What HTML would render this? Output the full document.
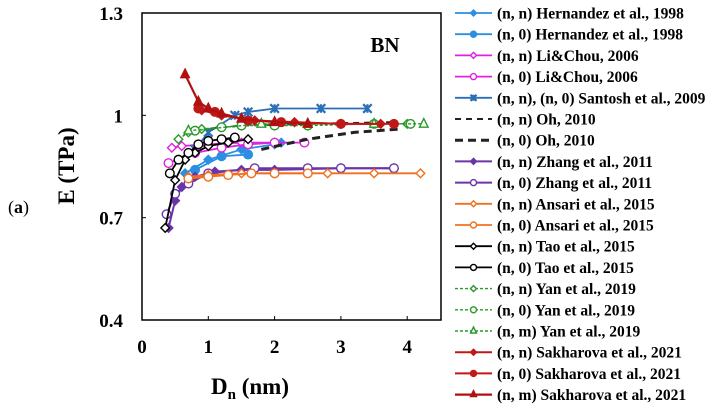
<!DOCTYPE html>
<html><head><meta charset="utf-8"><style>
html,body{margin:0;padding:0;background:#fff;}
svg{display:block;font-family:"Liberation Serif",serif;font-weight:bold;}
</style></head><body>
<svg id="chart" width="714" height="409" viewBox="0 0 714 409" xmlns="http://www.w3.org/2000/svg">
<text x="8" y="213" font-size="18" font-weight="normal">(<tspan font-weight="bold">a</tspan>)</text>
<text x="0" y="0" font-size="23" text-anchor="middle" transform="translate(74,166) rotate(-90)">E (TPa)</text>
<text x="250" y="394" font-size="23" text-anchor="middle">D<tspan font-size="15" dy="5">n</tspan><tspan dy="-5"> (nm)</tspan></text>
<text x="385" y="52" font-size="21" text-anchor="middle">BN</text>
<g id="axes"></g><g id="marks"></g><g id="legend"></g>
</svg>
<script>
const xTicks=[0,1,2,3,4];
const yTicks=[0.4,0.7,1,1.3];
const yTickLabels=["0.4","0.7","1","1.3"];
const seriesNames=["(n, n) Hernandez et al., 1998","(n, 0) Hernandez et al., 1998","(n, n) Li&Chou, 2006","(n, 0) Li&Chou, 2006","(n, n), (n, 0) Santosh et al., 2009","(n, n) Oh, 2010","(n, 0) Oh, 2010","(n, n) Zhang et al., 2011","(n, 0) Zhang et al., 2011","(n, n) Ansari et al., 2015","(n, 0) Ansari et al., 2015","(n, n) Tao et al., 2015","(n, 0) Tao et al., 2015","(n, n) Yan et al., 2019","(n, 0) Yan et al., 2019","(n, m) Yan et al., 2019","(n, n) Sakharova et al., 2021","(n, 0) Sakharova et al., 2021","(n, m) Sakharova et al., 2021"];
const hernNNx=[0.65,1.0,1.5,2.0,2.1], hernNNy=[0.83,0.87,0.90,0.915,0.92];
const hern0x=[0.8,1.2,1.6], hern0y=[0.84,0.88,0.885];
const liNNx=[0.45,0.6,1.0,1.5,2.0], liNNy=[0.905,0.91,0.915,0.92,0.92];
const li0x=[0.4,0.8,1.2,1.6,2.0,2.45], li0y=[0.86,0.89,0.905,0.915,0.92,0.92];
const santx=[0.8,1.0,1.4,1.6,2.0,2.7,3.4], santy=[0.90,0.95,1.0,1.01,1.02,1.02,1.02];
const ohNNx=[0.7,1.5,2.5,3.8], ohNNy=[0.955,0.97,0.975,0.98];
const oh0x=[1.8,2.5,3.2,3.9], oh0y=[0.9,0.93,0.95,0.96];
const zhNNx=[0.4,0.5,0.6,0.8,1.1,1.5,2.0,3.0,3.8], zhNNy=[0.67,0.75,0.79,0.82,0.835,0.84,0.84,0.845,0.845];
const zh0x=[0.37,0.5,0.7,1.0,1.7,2.5,3.0,3.8], zh0y=[0.71,0.77,0.80,0.83,0.845,0.845,0.845,0.845];
const anNNx=[0.7,1.0,1.5,2.0,2.8,3.5,4.2], anNNy=[0.82,0.825,0.83,0.83,0.83,0.83,0.83];
const an0x=[0.7,1.0,1.3,1.65,2.0,2.5], an0y=[0.815,0.82,0.825,0.83,0.83,0.83];
const taoNNx=[0.35,0.5,0.65,0.8,1.0,1.3,1.6], taoNNy=[0.67,0.81,0.87,0.89,0.91,0.92,0.93];
const tao0x=[0.42,0.55,0.7,0.85,1.0,1.2,1.4], tao0y=[0.83,0.87,0.89,0.915,0.925,0.93,0.935];
const yanNNx=[0.55,0.7,0.9,1.2,1.5,2.0,3.0,4.0], yanNNy=[0.93,0.95,0.96,0.965,0.97,0.975,0.975,0.975];
const yan0x=[0.8,1.2,1.5,2.0,2.5,3.5,4.05], yan0y=[0.955,0.965,0.97,0.97,0.97,0.975,0.975];
const yanNMx=[0.7,1.8,2.5,3.5,4.25], yanNMy=[0.955,0.975,0.975,0.975,0.975];
const sakNNx=[0.9,1.2,1.7,2.3,3.0,3.6], sakNNy=[1.015,1.0,0.985,0.98,0.975,0.975];
const sak0x=[0.85,1.1,1.6,2.1,3.0,3.8], sak0y=[1.02,1.01,0.985,0.98,0.975,0.975];
const sakNMx=[0.65,0.85,1.0,1.2,1.5,2.0,2.5], sakNMy=[1.12,1.04,1.02,1.005,0.99,0.98,0.975];

const X0=142,X1=441,Y0=320,Y1=13;
const xs=v=>X0+v*66.3;
const ys=v=>Y0-(v-0.4)/0.9*(Y0-Y1);
const NS="http://www.w3.org/2000/svg";
function mk(t,a,p){const e=document.createElementNS(NS,t);for(const k in a)e.setAttribute(k,a[k]);p.appendChild(e);return e;}
const axes=document.getElementById('axes'),marks=document.getElementById('marks'),leg=document.getElementById('legend');
const frame=mk('rect',{x:X0,y:Y1,width:X1-X0,height:Y0-Y1,fill:'none',stroke:'#000','stroke-width':1.5},axes);


xTicks.forEach(v=>{
 const tk=mk('line',{x1:xs(v),x2:xs(v),y1:Y0,y2:Y0-4,stroke:'#000'},axes);
 
 
 const t=mk('text',{x:xs(v),y:Y0+33,'font-size':19,'text-anchor':'middle'},axes);t.textContent=v;
 
 
});
yTicks.forEach((v,i)=>{
 const tk=mk('line',{x1:X0,x2:X0+4,y1:ys(v),y2:ys(v),stroke:'#000'},axes);
 
 
 const t=mk('text',{x:123,y:ys(v)+7,'font-size':19,'text-anchor':'end'},axes);t.textContent=yTickLabels[i];
 
 
});
const S=[
 [hernNNx,hernNNy,'#2a8fe0','diamondF',null,1.8],
 [hern0x,hern0y,'#2a8fe0','circleF',null,1.8],
 [liNNx,liNNy,'#e020e0','diamondO',null,1.8],
 [li0x,li0y,'#e020e0','circleO',null,1.8],
 [santx,santy,'#2a6fb8','star',null,1.8],
 [ohNNx,ohNNy,'#222','none','6,5',2],
 [oh0x,oh0y,'#222','none','8,5',3],
 [zhNNx,zhNNy,'#6a35a8','diamondF',null,2],
 [zh0x,zh0y,'#6a35a8','circleO',null,2],
 [anNNx,anNNy,'#f07020','diamondO',null,1.8],
 [an0x,an0y,'#f07020','circleO',null,1.8],
 [taoNNx,taoNNy,'#000','diamondO',null,1.8],
 [tao0x,tao0y,'#000','circleO',null,1.8],
 [yanNNx,yanNNy,'#2a9a2a','diamondO','3,2',1.4],
 [yan0x,yan0y,'#2a9a2a','circleO','3,2',1.4],
 [yanNMx,yanNMy,'#2a9a2a','triO','3,2',1.4],
 [sakNNx,sakNNy,'#c01818','diamondF',null,2],
 [sak0x,sak0y,'#c01818','circleF',null,2],
 [sakNMx,sakNMy,'#b01010','triF',null,2.2],
];
function marker(type,x,y,c,p,r){
 r=r||4.3;
 const fillc=type.endsWith('F')?c:'#fff';
 let e=null;
 if(type.startsWith('diamond'))e=mk('polygon',{points:`${x},${y-r} ${x+r},${y} ${x},${y+r} ${x-r},${y}`,fill:fillc,stroke:c,'stroke-width':1.4},p);
 else if(type.startsWith('circle'))e=mk('circle',{cx:x,cy:y,r:r,fill:fillc,stroke:c,'stroke-width':1.4},p);
 else if(type.startsWith('tri'))e=mk('polygon',{points:`${x},${y-r-1} ${x+r},${y+r-1} ${x-r},${y+r-1}`,fill:fillc,stroke:c,'stroke-width':1.4},p);
 else if(type==='star')e=mk('path',{d:`M${x-r},${y-r}L${x+r},${y+r}M${x-r},${y+r}L${x+r},${y-r}M${x},${y-r}L${x},${y+r}`,stroke:c,'stroke-width':2.2},p);
 return e;
}
S.forEach((s,i)=>{
 const g=mk('g',{},marks);
 
 
 const pts=s[0].map((v,j)=>xs(v)+','+ys(s[1][j])).join(' ');
 const a={points:pts,fill:'none',stroke:s[2],'stroke-width':s[5]};if(s[4])a['stroke-dasharray']=s[4];
 mk('polyline',a,g);
 if(s[3]!=='none')s[0].forEach((v,j)=>{const m=marker(s[3],xs(v),ys(s[1][j]),s[2],g);
  
  });
 const ly=13+i*21.2;
 const lg=mk('g',{},leg);
 
 
 const la={x1:455,x2:492,y1:ly,y2:ly,stroke:s[2],'stroke-width':s[5]};if(s[4])la['stroke-dasharray']=s[4];
 mk('line',la,lg);
 if(s[3]!=='none')marker(s[3],473.5,ly,s[2],lg,3);
 const t=mk('text',{x:497,y:ly+5.5,'font-size':15.5},lg);t.textContent=seriesNames[i];
});
</script>
</body></html>
